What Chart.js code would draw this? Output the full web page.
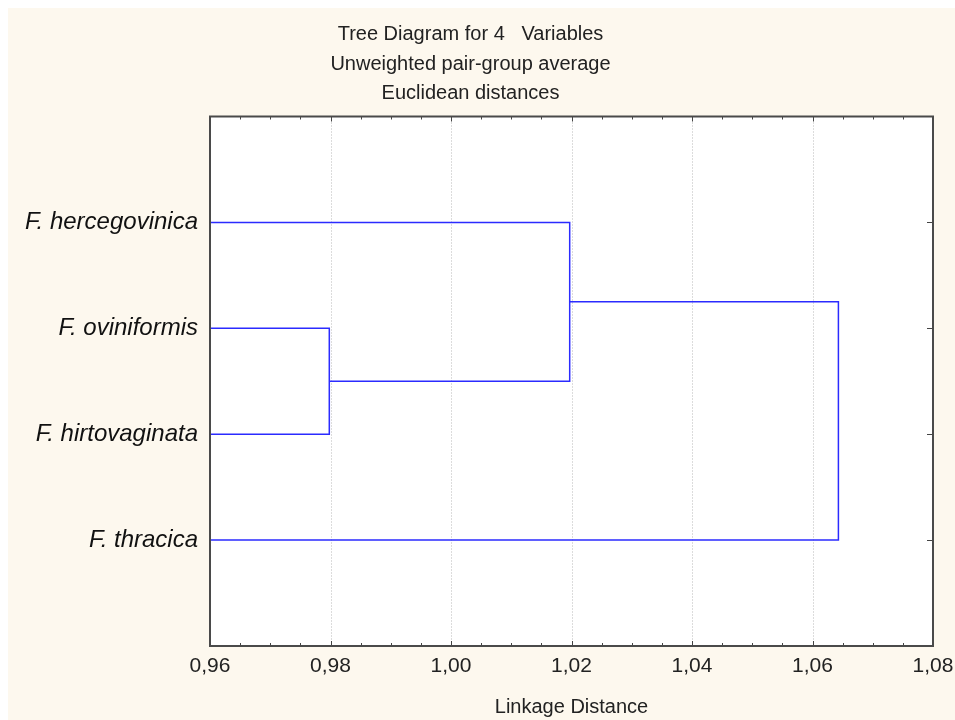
<!DOCTYPE html>
<html>
<head>
<meta charset="utf-8">
<script src="https://cdn.jsdelivr.net/npm/chart.js@4.4.0/dist/chart.umd.min.js"></script>
<style>
  html, body { margin: 0; padding: 0; background: #ffffff; overflow: hidden; }
  #wrap { position: absolute; left: 8px; top: 8px; width: 947px; height: 712px; background: #fdf8ee; }
</style>
</head>
<body>
<div id="wrap"><canvas id="tree" width="947" height="712"></canvas></div>
<script>
// ------- Data -------
const leaves = ["F. hercegovinica", "F. oviniformis", "F. hirtovaginata", "F. thracica"];
// nodes 0-3 are leaves, 4.. are the clusters made by each merge
const mergeLeft = [1, 0, 5];
const mergeRight = [2, 4, 3];
const mergeHeight = [0.9798, 1.0197, 1.0643];
const xTicks = [0.96, 0.98, 1.0, 1.02, 1.04, 1.06, 1.08];
const titleLines = ["Tree Diagram for 4   Variables", "Unweighted pair-group average", "Euclidean distances"];

// ------- Build dendrogram segments -------
let nodeX = [], nodeY = [];
leaves.forEach((name, i) => {
  nodeX.push(xTicks[0]);
  nodeY.push(i + 1);
});
let datasets = [];
for (let i = 0; i < mergeHeight.length; i++) {
  let a = mergeLeft[i], b = mergeRight[i], h = mergeHeight[i];
  datasets.push({
    data: [
      { x: nodeX[a], y: nodeY[a] },
      { x: h, y: nodeY[a] },
      { x: h, y: nodeY[b] },
      { x: nodeX[b], y: nodeY[b] },
    ],
    showLine: true,
    borderColor: "#2b2bff",
    borderWidth: 1.5,
    pointRadius: 0,
    fill: false,
  });
  nodeX.push(h);
  nodeY.push((nodeY[a] + nodeY[b]) / 2);
}

// ------- Frame, dotted grid and inside ticks -------
const frame = {
  id: "frame",
  beforeDatasetsDraw(chart) {
    let { ctx, chartArea: a, scales } = chart;
    ctx.save();
    ctx.strokeStyle = "#b8b8b8";
    ctx.lineWidth = 1;
    ctx.setLineDash([1, 2]);
    xTicks.slice(1, -1).forEach((v) => {
      let px = Math.round(scales.x.getPixelForValue(v)) + 0.5;
      ctx.beginPath();
      ctx.moveTo(px, a.top);
      ctx.lineTo(px, a.bottom);
      ctx.stroke();
    });
    ctx.restore();
  },
  afterDraw(chart) {
    let { ctx, chartArea: a, scales } = chart;
    ctx.save();
    ctx.strokeStyle = "#444444";
    ctx.lineWidth = 1;
    // minor + major ticks on top and bottom
    for (let i = 0; i < xTicks.length - 1; i++) {
      let step = (xTicks[i + 1] - xTicks[i]) / 4;
      for (let k = 0; k < 4; k++) {
        let px = Math.round(scales.x.getPixelForValue(xTicks[i] + k * step)) + 0.5;
        let len = k === 0 ? 5 : 3;
        ctx.beginPath();
        ctx.moveTo(px, a.top);
        ctx.lineTo(px, a.top + len);
        ctx.moveTo(px, a.bottom);
        ctx.lineTo(px, a.bottom - len);
        ctx.stroke();
      }
    }
    // right side ticks at leaves
    leaves.forEach((name, i) => {
      let py = Math.round(scales.y.getPixelForValue(i + 1)) + 0.5;
      ctx.beginPath();
      ctx.moveTo(a.right, py);
      ctx.lineTo(a.right - 6, py);
      ctx.stroke();
    });
    ctx.lineWidth = 2;
    ctx.strokeStyle = "#4a4a4a";
    ctx.strokeRect(a.left, a.top, a.right - a.left, a.bottom - a.top);
    ctx.restore();
  },
};

const plotBg = {
  id: "plotBg",
  beforeDraw(chart) {
    let { ctx, chartArea: a } = chart;
    ctx.save();
    ctx.fillStyle = "#ffffff";
    ctx.fillRect(a.left, a.top, a.right - a.left, a.bottom - a.top);
    ctx.restore();
  },
};

new Chart("tree", {
  type: "scatter",
  data: { datasets: datasets },
  options: {
    responsive: false,
    devicePixelRatio: 1,
    animation: false,
    layout: { padding: { left: 0, right: 22, top: 0, bottom: 0 } },
    plugins: {
      legend: { display: false },
      tooltip: { enabled: false },
      title: {
        display: true,
        text: titleLines,
        color: "#222222",
        font: { family: "'Liberation Sans', Arial, sans-serif", size: 20, weight: "normal", lineHeight: 29.5 / 20 },
        padding: { top: 12, bottom: 8 },
      },
    },
    scales: {
      x: {
        type: "linear",
        min: xTicks[0],
        max: xTicks[xTicks.length - 1],
        afterBuildTicks: (s) => { s.ticks = xTicks.map((v) => ({ value: v })); },
        afterFit: (s) => {
          s.height = 74;
          s.paddingLeft = 0;
          s.paddingRight = 0;
        },
        grid: { display: false },
        border: { display: false },
        ticks: {
          padding: 0,
          color: "#222222",
          font: { family: "'Liberation Sans', Arial, sans-serif", size: 21 },
          callback: (v) => v.toFixed(2).replace(".", ","),
        },
        title: {
          display: true,
          text: "Linkage Distance",
          color: "#222222",
          font: { family: "'Liberation Sans', Arial, sans-serif", size: 20 },
          padding: { top: 4, bottom: 1 },
        },
      },
      y: {
        type: "linear",
        min: 0,
        max: 5,
        reverse: true,
        afterBuildTicks: (s) => { s.ticks = leaves.map((n, i) => ({ value: i + 1 })); },
        afterFit: (s) => { s.width = 202; },
        grid: { display: false },
        border: { display: false },
        ticks: {
          padding: 4,
          color: "#111111",
          font: { family: "'Liberation Sans', Arial, sans-serif", size: 24, style: "italic" },
          callback: (v) => leaves[v - 1],
        },
      },
    },
  },
  plugins: [plotBg, frame],
});
</script>
</body>
</html>
